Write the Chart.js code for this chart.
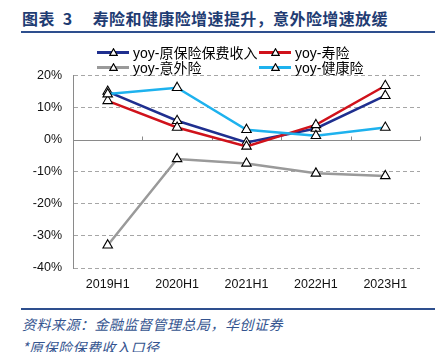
<!DOCTYPE html>
<html><head><meta charset="utf-8">
<script src="https://cdn.jsdelivr.net/npm/chart.js@4.4.1/dist/chart.umd.min.js"></script>
<style>
html,body{margin:0;padding:0;background:#fff;}
body{width:445px;height:352px;position:relative;overflow:hidden;font-family:"Liberation Sans",Arial,"Noto Sans CJK SC",sans-serif;}
#title{position:absolute;left:22px;top:7px;font-family:"Noto Sans CJK SC";font-weight:bold;font-size:16px;letter-spacing:0.4px;color:#1F3C73;white-space:nowrap;line-height:22px;}
#tline{position:absolute;left:21px;top:31px;width:414px;height:2px;background:#2E4F8E;}
#bline{position:absolute;left:21px;top:308px;width:414px;height:2px;background:#2E4F8E;}
.foot{position:absolute;left:22px;font-family:"Noto Sans CJK SC";font-style:italic;font-size:14px;letter-spacing:0.5px;color:#34548F;white-space:nowrap;line-height:18px;}
#legend{position:absolute;left:0;top:0;width:445px;height:80px;z-index:2;}
.li{position:absolute;height:16px;display:flex;align-items:center;font-size:14px;color:#000;white-space:nowrap;}
.li .ln{position:relative;width:32px;height:3px;margin-right:4px;}
.li svg{position:absolute;left:12px;top:-3px;}
.li span{font-family:"Liberation Sans",Arial,"Noto Sans CJK SC",sans-serif;}
#wrap{position:absolute;left:0;top:57px;width:445px;height:243px;z-index:1;}
</style></head>
<body>
<div id="title">图表 <span style="margin-left:4px">3</span><span style="margin-left:20px">寿险和健康险增速提升，意外险增速放缓</span></div>
<div id="tline"></div>
<div id="wrap"><canvas id="c" width="445" height="243"></canvas></div>
<div id="legend"></div>
<div id="bline"></div>
<div class="foot" style="top:315px">资料来源：金融监督管理总局，华创证券</div>
<div class="foot" style="top:338px">*原保险保费收入口径</div>
<script>
const categories = ["2019H1","2020H1","2021H1","2022H1","2023H1"];
const seriesNames = ["yoy-原保险保费收入","yoy-寿险","yoy-意外险","yoy-健康险"];
const premiumYoy = [15.0, 5.9, -0.9, 3.5, 13.7];
const lifeYoy = [12.1, 3.8, -2.1, 4.6, 16.8];
const accidentYoy = [-32.9, -6.0, -7.4, -10.5, -11.3];
const healthYoy = [14.2, 16.2, 3.1, 1.2, 3.8];
const yTicks = [-40, -30, -20, -10, 0, 10, 20];
const colors = ["#1F2F8F", "#D0121B", "#9A9A9A", "#1EB2EE"];

// HTML legend
const legPos = [[97,44],[259,44],[97,59],[259,59]];
const leg = document.getElementById('legend');
seriesNames.forEach((n,i)=>{
  const d=document.createElement('div');d.className='li';
  d.style.left=legPos[i][0]+'px';d.style.top=legPos[i][1]+'px';
  d.innerHTML='<div class="ln" style="background:'+colors[i]+'"><svg width="9" height="8" viewBox="0 0 9 8"><polygon points="4.5,0.8 8.2,7.3 0.8,7.3" fill="#fff" stroke="#000" stroke-width="1.2"/></svg></div><span>'+n+'</span>';
  leg.appendChild(d);
});

const zeroPlugin = {
  id:'zeroLine',
  beforeDatasetsDraw(chart){
    const {ctx, chartArea:a, scales:{x,y}} = chart;
    const y0 = Math.round(y.getPixelForValue(0))+0.5;
    ctx.save();
    ctx.strokeStyle='#8a8a8a';ctx.lineWidth=1;
    ctx.beginPath();ctx.moveTo(a.left,y0);ctx.lineTo(a.right,y0);ctx.stroke();
    const half=(x.getPixelForValue(1)-x.getPixelForValue(0))/2;
    for(let i=0;i<categories.length;i++){
      const px=Math.round(x.getPixelForValue(i)+half)+0.5;
      ctx.beginPath();ctx.moveTo(px,y0);ctx.lineTo(px,y0-4);ctx.stroke();
    }
    ctx.restore();
  }
};

const series=[premiumYoy,lifeYoy,accidentYoy,healthYoy];
const order=[2,3,1,0];
new Chart(document.getElementById('c'),{
  type:'line',
  data:{labels:categories,datasets:order.map(i=>({
    label:seriesNames[i],data:series[i],borderColor:colors[i],borderWidth:2.5,tension:0,
    pointStyle:'triangle',pointRadius:5.5,pointBackgroundColor:'#fff',pointBorderColor:'#000',pointBorderWidth:1.1
  }))},
  options:{
    responsive:false,animation:false,devicePixelRatio:1,
    layout:{padding:{top:5,right:25,bottom:0,left:0}},
    plugins:{legend:{display:false},tooltip:{enabled:false}},
    scales:{
      x:{offset:true,grid:{display:false,drawTicks:false},border:{display:false},
        ticks:{color:'#111',font:{family:'"Liberation Sans", Arial',size:12.5},padding:9,maxRotation:0},
        afterFit(s){s.height=32;}},
      y:{min:-40,max:20,afterBuildTicks(s){s.ticks=yTicks.map(v=>({value:v}));},
        grid:{drawTicks:false,color:c=>c.tick&&c.tick.value===0?'rgba(0,0,0,0)':'#a6a6a6',lineWidth:1},
        border:{display:true,color:'#8a8a8a',width:1,dash:[4,3]},
        ticks:{color:'#111',font:{family:'"Liberation Sans", Arial',size:12.5},padding:11,callback:v=>v+'%'},
        afterFit(s){s.width=73;}}
    }
  },
  plugins:[zeroPlugin]
});
</script>
</body></html>
